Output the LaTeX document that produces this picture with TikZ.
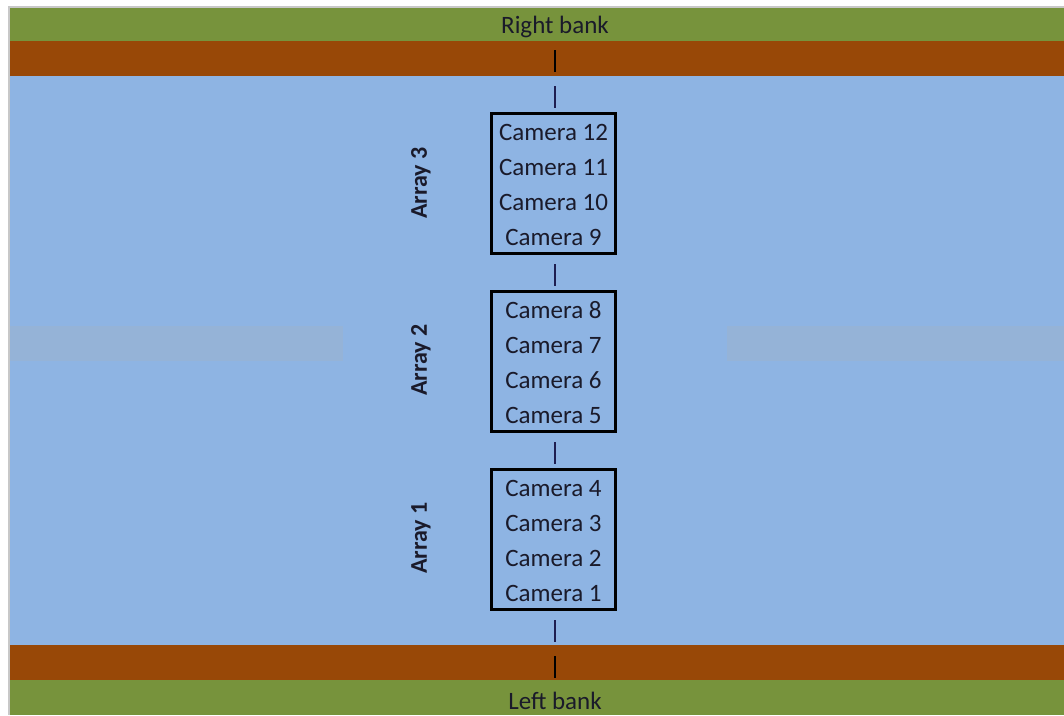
\documentclass[tikz,border=0pt]{standalone}
\usepackage{fontspec}
\setmainfont{Carlito}
\definecolor{bankgreen}{HTML}{77933C}
\definecolor{soilbrown}{HTML}{984807}
\definecolor{water}{HTML}{8EB4E3}
\definecolor{band}{HTML}{95B3D7}
\definecolor{edgegray}{HTML}{C8C8C8}
\definecolor{ink}{HTML}{1A1A2A}
\definecolor{tick}{HTML}{1E1E50}
\begin{document}
\begin{tikzpicture}[x=1pt,y=-1pt,
  camtext/.style={font=\fontsize{25}{28}\selectfont,text=ink,inner sep=0pt,anchor=center},
  arraylbl/.style={font=\fontsize{24}{28}\selectfont\bfseries,text=ink,rotate=90,inner sep=0pt},
  banklbl/.style={font=\fontsize{25}{28}\selectfont,text=ink,inner sep=0pt},
  camarray/.style={draw=black,line width=3pt,minimum width=124pt,minimum height=140pt,inner sep=0pt},
  tickline/.style={draw=tick,line width=1.5pt}]
\useasboundingbox (0,0) rectangle (1064,715);
\fill[white] (0,0) rectangle (1064,715);
\fill[edgegray] (8,6) rectangle (9.5,715);
\fill[edgegray] (8,6) rectangle (1064,7.5);
% bands
\fill[bankgreen] (9.5,7.5) rectangle (1064,41);
\fill[soilbrown] (9.5,41) rectangle (1064,75.5);
\fill[water] (9.5,75.5) rectangle (1064,645);
\fill[soilbrown] (9.5,645) rectangle (1064,680);
\fill[bankgreen] (9.5,680) rectangle (1064,715);
\fill[band] (9.5,326) rectangle (343,361);
\fill[band] (727,326) rectangle (1064,361);
% bank labels
\node[banklbl] (rb) at (555,26.5) {Right bank};
\node[banklbl] (lb) at (555,700.5) {Left bank};
% arrays
\node[camarray] (a3) at (553.5,183) {};
\node[camarray] (a2) at (553.5,361) {};
\node[camarray] (a1) at (553.5,539) {};
\foreach \b/\s in {a3/12,a2/8,a1/4}{
  \foreach \i in {0,1,2,3}{
    \pgfmathtruncatemacro{\n}{\s-\i}
    \node[camtext] (\b c\i) at ([yshift=50.5-35*\i]\b.center) {Camera \n};
  }
}
\node[arraylbl] (l3) at (421,183) {Array 3};
\node[arraylbl] (l2) at (421,360) {Array 2};
\node[arraylbl] (l1) at (421,538) {Array 1};
% tick lines
\coordinate (t1a) at (555,50); \coordinate (t1b) at (555,72);
\coordinate (t2a) at (555,86); \coordinate (t2b) at (555,108);
\coordinate (t3a) at (555,264); \coordinate (t3b) at (555,286);
\coordinate (t4a) at (555,442); \coordinate (t4b) at (555,464);
\coordinate (t5a) at (555,620); \coordinate (t5b) at (555,642);
\coordinate (t6a) at (555,656); \coordinate (t6b) at (555,678);
\draw[tickline,draw=black] (t1a) -- (t1b);
\draw[tickline] (t2a) -- (t2b);
\draw[tickline] (t3a) -- (t3b);
\draw[tickline] (t4a) -- (t4b);
\draw[tickline] (t5a) -- (t5b);
\draw[tickline,draw=black] (t6a) -- (t6b);
\end{tikzpicture}
\end{document}
